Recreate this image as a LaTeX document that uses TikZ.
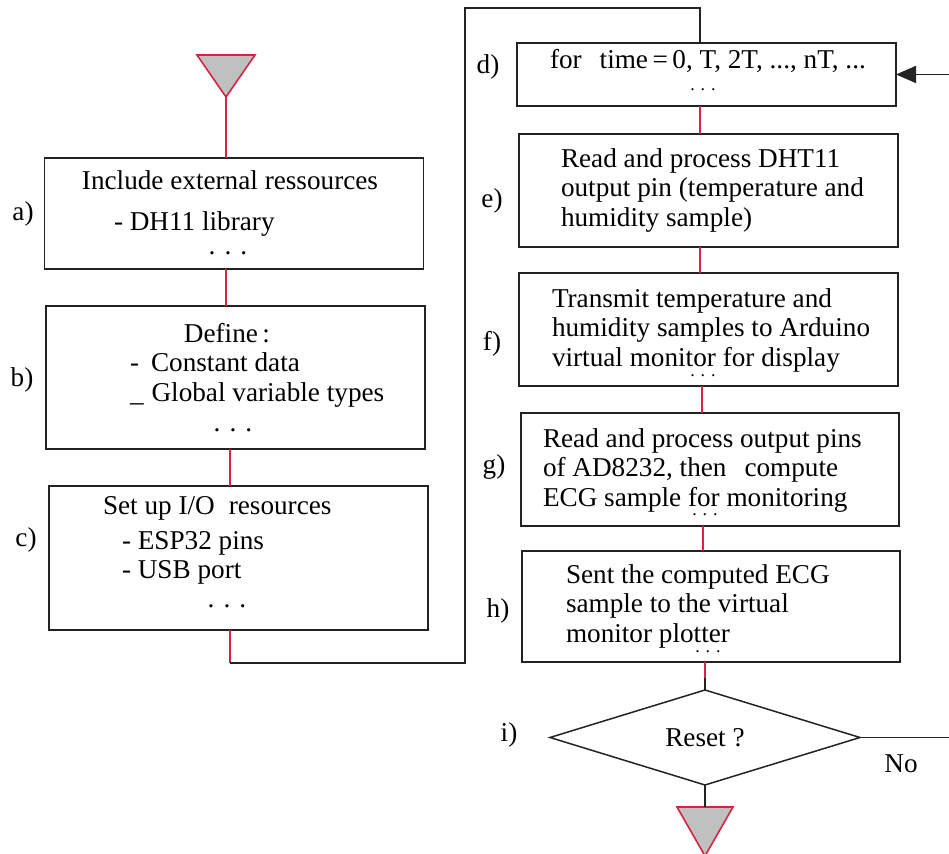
\documentclass[tikz,border=0pt]{standalone}
\usepackage{fontspec}
\setmainfont{Liberation Serif}
\usetikzlibrary{shapes.geometric,arrows.meta}
\definecolor{linkred}{RGB}{212,36,68}
\definecolor{tipgray}{RGB}{192,192,192}
\definecolor{boxline}{RGB}{35,35,35}

\begin{document}
\begin{tikzpicture}[x=0.5pt,y=-0.5pt,inner sep=0pt,outer sep=0pt,
font=\fontsize{13.6}{14.8}\selectfont,
box/.style={draw=boxline,rectangle,line width=0.75pt,minimum width=189.5pt},
txt/.style={anchor=base west},
para/.style={anchor=north west,align=left},
tag/.style={anchor=base},
tinydots/.style={anchor=base,font=\fontsize{9}{10}\selectfont},
redlink/.style={draw=linkred,line width=0.8pt},
link/.style={draw=boxline,line width=0.75pt},
endmark/.style={draw=linkred,fill=tipgray,line width=0.8pt}]

\useasboundingbox (0,0) rectangle (949,854);

% columns used by the connectors
\coordinate (colA) at (226,0);
\coordinate (colB) at (230,0);
\coordinate (colD) at (700,0);
\coordinate (colF) at (702,0);
\coordinate (colG) at (703,0);

% start and end marks
\draw[endmark] (197,55) -- (255,55) -- (226,97) -- cycle;
\coordinate (start) at (226,97);
\draw[endmark] (677,807) -- (733,807) -- (705,856) -- cycle;
\coordinate (stop) at (705,807);

% left column
\draw (234,213.5) node[box,minimum height=55.5pt] (a) {};
\node[txt] (a1) at (82,190) {Include external ressources};
\node[txt] (a2) at (114,231) {- DH11 library};
\node[tag] (a3) at (228,255) {. . .};

\draw (235.5,377.5) node[box,minimum height=71.5pt] (b) {};
\node[tag] (b1) at (227,343) {Define\,:};
\node[txt] (b2) at (130,372) {-\hspace{6pt}Constant data};
\node[txt] (b3) at (130,402) {\_\hspace{4pt}Global variable types};
\node[tag] (b4) at (233,432) {. . .};

\draw (238.5,558) node[box,minimum height=72pt] (c) {};
\node[txt] (c1) at (103,515) {Set up I/O\hspace{7pt}resources};
\node[txt] (c2) at (122,550) {- ESP32 pins};
\node[txt] (c3) at (122,579) {- USB port};
\node[tag] (c4) at (227,608) {. . .};

% right column
\draw (706.5,74.5) node[box,minimum height=31.5pt] (d) {};
\node[txt] (d1) at (550,69) {for\hspace{9pt}time\,=\,0, T, 2T, ..., nT, ...};
\node[tinydots] (d2) at (703,91) {. . .};

\draw (708.5,190.5) node[box,minimum height=56.5pt] (e) {};
\node[para] (e1) at (561,146.3) {\strut Read and process DHT11\\output pin (temperature and\\humidity sample)};

\draw (708.5,329.5) node[box,minimum height=56.5pt] (f) {};
\node[para] (f1) at (552,286.3) {\strut Transmit temperature and\\humidity samples to Arduino\\virtual monitor for display};
\node[tinydots] (f2) at (703,377) {. . .};

\draw (710,469.5) node[box,minimum width=189pt,minimum height=56.5pt] (g) {};
\node[para] (g1) at (543,426.3) {\strut Read and process output pins\\of AD8232, then\hspace{9pt}compute\\ECG sample for monitoring};
\node[tinydots] (g2) at (705,516) {. . .};

\draw (711,606.5) node[box,minimum width=189pt,minimum height=55.5pt] (h) {};
\node[para] (h1) at (566,562.3) {\strut Sent the computed ECG\\sample to the virtual\\monitor plotter};
\node[tinydots] (h2) at (708,653) {. . .};

\draw (705,737.5) node[draw=boxline,line width=0.75pt,diamond,aspect=3.26,
  minimum width=155pt,minimum height=47.5pt] (reset) {Reset ?};
\node[tag] (no) at (901,773) {No};

% step labels
\node[tag] (la) at (23,221) {a)};
\node[tag] (lb) at (22,387) {b)};
\node[tag] (lc) at (26,547) {c)};
\node[tag] (ld) at (488,74) {d)};
\node[tag] (le) at (492,208) {e)};
\node[tag] (lf) at (492,351) {f)};
\node[tag] (lg) at (494,474) {g)};
\node[tag] (lh) at (498,618) {h)};
\node[tag] (li) at (509,742) {i)};

% connectors
\draw[redlink] (start) -- (start |- a.north);
\draw[redlink] (a.south -| colA) -- (b.north -| colA);
\draw[redlink] (b.south -| colB) -- (c.north -| colB);
\draw[redlink] (c.south -| colB) -- ++(0,33) coordinate (cout);
\draw[link] (cout) -| (465,8) -| (d.north -| colD);
\draw[redlink] (d.south -| colD) -- (e.north -| colD);
\draw[redlink] (e.south -| colD) -- (f.north -| colD);
\draw[redlink] (f.south -| colF) -- (g.north -| colF);
\draw[redlink] (g.south -| colG) -- (h.north -| colG);
\draw[redlink] (h.south -| reset.north) -- ++(0,16) coordinate (hout);
\draw[link] (hout) -- (reset.north);
\draw[link] (reset.south) -- (stop);
\draw[link,-{Triangle[length=10pt,width=8.5pt]}] (reset.east) -- ++(110,0) |- (d.east);

\end{tikzpicture}
\end{document}
